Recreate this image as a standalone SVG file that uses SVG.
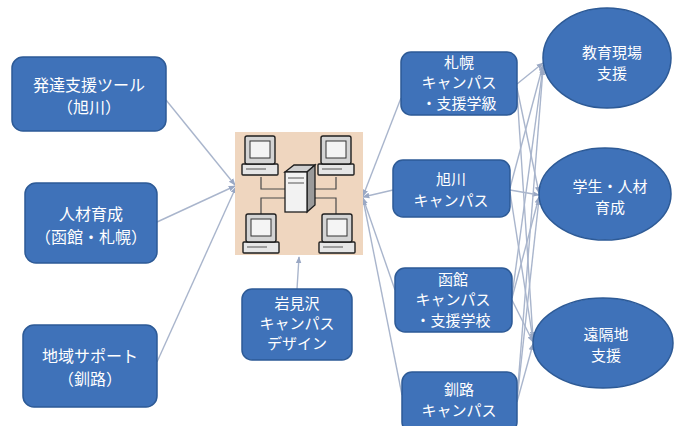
<svg xmlns="http://www.w3.org/2000/svg" width="674" height="426" viewBox="0 0 674 426">
  <style>
    .box { fill: #3f72b9; stroke: #2d5a96; stroke-width: 1.5; }
    .lbl { fill: #ffffff; font-family: "Noto Sans CJK JP", "Noto Sans", sans-serif; font-size: 15px; text-anchor: middle; }
    .big { font-size: 16px; }
    .link { fill: none; stroke: #a9b5cc; stroke-width: 1.4; }
    .mon { fill: #d4d4d4; stroke: #1e1e1e; stroke-width: 1.4; }
    .scr { fill: #f4f4f4; stroke: #333; stroke-width: 1; }
    .base { fill: #e6e6e6; stroke: #1e1e1e; stroke-width: 1.4; }
    .wire { stroke: #4a4a4a; stroke-width: 1.2; fill: none; }
  </style>
  <defs>
    <marker id="arr" viewBox="0 0 10 10" refX="9" refY="5" markerWidth="7" markerHeight="7" markerUnits="userSpaceOnUse" orient="auto">
      <path d="M0,1 L10,5 L0,9 Z" fill="#9aa8c4"/>
    </marker>
    <!-- desktop computer: monitor on a system unit -->
    <g id="pc">
      <rect class="base" x="-18" y="10" width="36" height="11" rx="1"/>
      <line x1="-14" y1="15" x2="6" y2="15" stroke="#555" stroke-width="1"/>
      <rect class="mon" x="-15" y="-18" width="30" height="28" rx="2"/>
      <rect class="scr" x="-10" y="-13" width="20" height="17"/>
    </g>
  </defs>

  <rect width="674" height="426" fill="#ffffff"/>

  <!-- connectors -->
  <g id="connectors">
    <line class="link" x1="166" y1="100" x2="235" y2="185" marker-end="url(#arr)"/>
    <line class="link" x1="157" y1="222" x2="235" y2="186" marker-end="url(#arr)"/>
    <line class="link" x1="157" y1="362" x2="236" y2="187" marker-end="url(#arr)"/>
    <line class="link" x1="297" y1="289" x2="299" y2="257" marker-end="url(#arr)"/>
    <line class="link" x1="401" y1="98" x2="363" y2="196" marker-end="url(#arr)"/>
    <line class="link" x1="393" y1="190" x2="363" y2="197" marker-end="url(#arr)"/>
    <line class="link" x1="395" y1="290" x2="363" y2="198" marker-end="url(#arr)"/>
    <line class="link" x1="402" y1="395" x2="363" y2="199" marker-end="url(#arr)"/>
    <!-- campuses to support areas -->
    <line class="link" x1="517" y1="84" x2="543" y2="63" marker-end="url(#arr)"/>
    <line class="link" x1="517" y1="88" x2="539" y2="193" marker-end="url(#arr)"/>
    <line class="link" x1="517" y1="92" x2="533" y2="338" marker-end="url(#arr)"/>
    <line class="link" x1="510" y1="188" x2="543" y2="65" marker-end="url(#arr)"/>
    <line class="link" x1="510" y1="190" x2="539" y2="195" marker-end="url(#arr)"/>
    <line class="link" x1="510" y1="192" x2="533" y2="340" marker-end="url(#arr)"/>
    <line class="link" x1="512" y1="296" x2="543" y2="67" marker-end="url(#arr)"/>
    <line class="link" x1="512" y1="298" x2="539" y2="197" marker-end="url(#arr)"/>
    <line class="link" x1="512" y1="300" x2="533" y2="342" marker-end="url(#arr)"/>
    <line class="link" x1="517" y1="398" x2="543" y2="69" marker-end="url(#arr)"/>
    <line class="link" x1="517" y1="400" x2="539" y2="199" marker-end="url(#arr)"/>
    <line class="link" x1="517" y1="402" x2="533" y2="344" marker-end="url(#arr)"/>
  </g>

  <!-- left nodes -->
  <g id="hattatsu">
    <rect class="box" x="12" y="57" width="154" height="74" rx="11"/>
    <text class="lbl big" x="89" y="91">発達支援ツール</text>
    <text class="lbl big" x="89" y="113">（旭川）</text>
  </g>
  <g id="jinzai">
    <rect class="box" x="25" y="183" width="132" height="80" rx="11"/>
    <text class="lbl big" x="91" y="220">人材育成</text>
    <text class="lbl big" x="91" y="243">（函館・札幌）</text>
  </g>
  <g id="chiiki">
    <rect class="box" x="23" y="325" width="134" height="82" rx="11"/>
    <text class="lbl big" x="90" y="362">地域サポート</text>
    <text class="lbl big" x="90" y="385">（釧路）</text>
  </g>

  <!-- network hub -->
  <g id="network">
    <rect x="235" y="132" width="128" height="123" fill="#efd6bf"/>
    <path class="wire" d="M261,177 V189 H286 M261,214 V198 H286 M336,177 V189 H311 M336,214 V198 H311"/>
    <use href="#pc" x="260" y="154"/>
    <use href="#pc" x="336" y="154"/>
    <use href="#pc" x="261" y="232"/>
    <use href="#pc" x="337" y="232"/>
    <path d="M285,172 L294,165 L315,165 L307,172 Z" fill="#cfcfcf" stroke="#1e1e1e" stroke-width="1.3"/>
    <path d="M307,172 L315,165 L315,205 L307,212 Z" fill="#9a9a9a" stroke="#1e1e1e" stroke-width="1.3"/>
    <rect x="285" y="172" width="22" height="40" fill="#f2f2f2" stroke="#1e1e1e" stroke-width="1.3"/>
    <line x1="288" y1="178" x2="304" y2="178" stroke="#555" stroke-width="1"/>
    <line x1="288" y1="183" x2="304" y2="183" stroke="#555" stroke-width="1"/>
  </g>

  <g id="iwamizawa">
    <rect class="box" x="242" y="289" width="110" height="71" rx="10"/>
    <text class="lbl" x="297" y="309">岩見沢</text>
    <text class="lbl" x="297" y="329">キャンパス</text>
    <text class="lbl" x="297" y="349">デザイン</text>
  </g>

  <!-- campus nodes -->
  <g id="sapporo">
    <rect class="box" x="401" y="52" width="116" height="63" rx="10"/>
    <text class="lbl" x="459" y="68">札幌</text>
    <text class="lbl" x="459" y="88">キャンパス</text>
    <text class="lbl" x="459" y="109">・支援学級</text>
  </g>
  <g id="asahikawa">
    <rect class="box" x="393" y="160" width="117" height="57" rx="10"/>
    <text class="lbl" x="451" y="185">旭川</text>
    <text class="lbl" x="451" y="206">キャンパス</text>
  </g>
  <g id="hakodate">
    <rect class="box" x="395" y="268" width="117" height="64" rx="10"/>
    <text class="lbl" x="453" y="285">函館</text>
    <text class="lbl" x="453" y="305">キャンパス</text>
    <text class="lbl" x="453" y="326">・支援学校</text>
  </g>
  <g id="kushiro">
    <rect class="box" x="402" y="372" width="115" height="60" rx="10"/>
    <text class="lbl" x="459" y="395">釧路</text>
    <text class="lbl" x="459" y="416">キャンパス</text>
  </g>

  <!-- support areas -->
  <g id="kyoiku">
    <ellipse class="box" cx="607" cy="58" rx="64" ry="50"/>
    <text class="lbl" x="612" y="58">教育現場</text>
    <text class="lbl" x="612" y="79">支援</text>
  </g>
  <g id="gakusei">
    <ellipse class="box" cx="605" cy="194" rx="66" ry="46"/>
    <text class="lbl" x="610" y="192">学生・人材</text>
    <text class="lbl" x="610" y="213">育成</text>
  </g>
  <g id="enkaku">
    <ellipse class="box" cx="603" cy="343" rx="70" ry="45"/>
    <text class="lbl" x="606" y="340">遠隔地</text>
    <text class="lbl" x="606" y="361">支援</text>
  </g>
</svg>
